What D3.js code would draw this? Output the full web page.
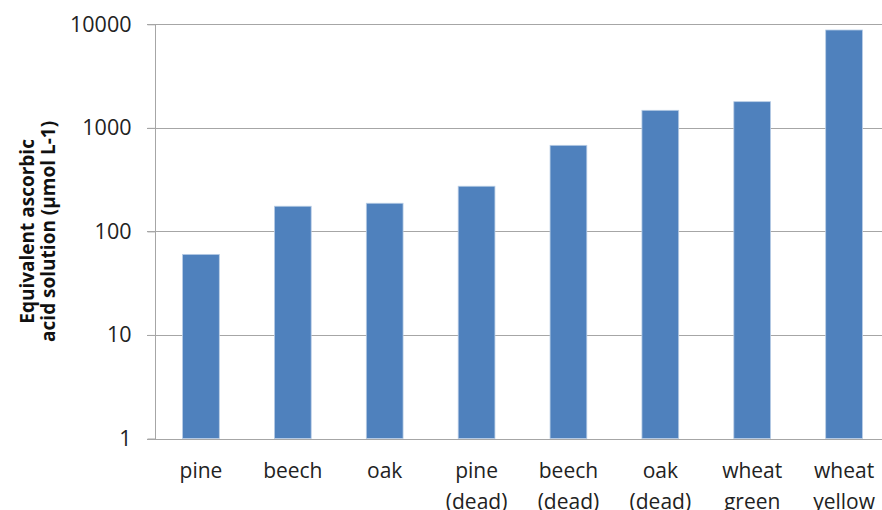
<!DOCTYPE html>
<html>
<head>
<meta charset="utf-8">
<script src="https://cdn.jsdelivr.net/npm/d3@7"></script>
<style>
  html, body { margin: 0; padding: 0; background: #fff; }
  svg { display: block; }
</style>
</head>
<body>
<svg id="chart" width="882" height="510"></svg>
<script>
const categories = ["pine", "beech", "oak", "pine\n(dead)", "beech\n(dead)", "oak\n(dead)", "wheat\ngreen", "wheat\nyellow"];
const values = [60, 175, 187, 273, 678, 1477, 1790, 8810];
const yTicks = [1, 10, 100, 1000, 10000];
const yTitle = ["Equivalent ascorbic", "acid solution (µmol L-1)"];

const W = 882, H = 510;
const pLeft = 155, pRight = 890, pTop = 24.3, pBottom = 438.5;

const svg = d3.select("#chart");

const x = d3.scaleBand().domain(categories).range([pLeft, pRight]).paddingInner(0.6).paddingOuter(0.3);
const y = d3.scaleLog().domain([1, 10000]).range([pBottom, pTop]);

// gridlines
svg.append("g").selectAll("line").data(yTicks.filter(t => t > 1)).join("line")
  .attr("x1", pLeft - 8).attr("x2", W)
  .attr("y1", d => Math.round(y(d)) + 0.5).attr("y2", d => Math.round(y(d)) + 0.5)
  .attr("stroke", "#a6a6a6").attr("stroke-width", 1);

// bars
svg.append("g").selectAll("rect").data(values).join("rect")
  .attr("x", (d, i) => x(categories[i]))
  .attr("width", x.bandwidth())
  .attr("y", d => y(d))
  .attr("height", d => y(1) - y(d))
  .attr("fill", "#4f81bd")
  .attr("stroke", "#b9cde5").attr("stroke-width", 0.8);

// y axis
const yAxis = d3.axisLeft(y).tickValues(yTicks).tickFormat(d3.format("d")).tickSize(8).tickPadding(16);
const gy = svg.append("g").attr("transform", `translate(${pLeft + 0.5},0)`).call(yAxis);
gy.select(".domain").attr("stroke", "#a6a6a6").attr("d", `M0,${Math.round(pTop)}V${Math.round(pBottom)}`);
gy.selectAll(".tick line").attr("stroke", "#a6a6a6");
gy.selectAll(".tick text").attr("fill", "#222").attr("font-family", "'Open Sans', sans-serif").attr("font-size", 21.5);

// x axis baseline
svg.append("line").attr("x1", pLeft - 8).attr("x2", W)
  .attr("y1", Math.round(pBottom) + 0.5).attr("y2", Math.round(pBottom) + 0.5)
  .attr("stroke", "#a6a6a6");

// category labels
const lab = svg.append("g").selectAll("text").data(categories).join("text")
  .attr("text-anchor", "middle")
  .attr("font-family", "'Open Sans', sans-serif").attr("font-size", 21)
  .attr("fill", "#222")
  .attr("transform", d => `translate(${x(d) + x.bandwidth() / 2},477.5)`);
lab.selectAll("tspan").data(d => d.split("\n")).join("tspan")
  .attr("x", 0).attr("y", (d, i) => i * 31).text(d => d);

// y title
const yt = svg.append("text")
  .attr("transform", `translate(0,${(pTop + pBottom) / 2}) rotate(-90)`)
  .attr("text-anchor", "middle")
  .attr("font-family", "'Open Sans', sans-serif").attr("font-weight", "bold").attr("font-size", 19)
  .attr("fill", "#111");
yt.selectAll("tspan").data(yTitle).join("tspan")
  .attr("x", 0).attr("y", (d, i) => 34 + i * 21).text(d => d);
</script>
</body>
</html>
